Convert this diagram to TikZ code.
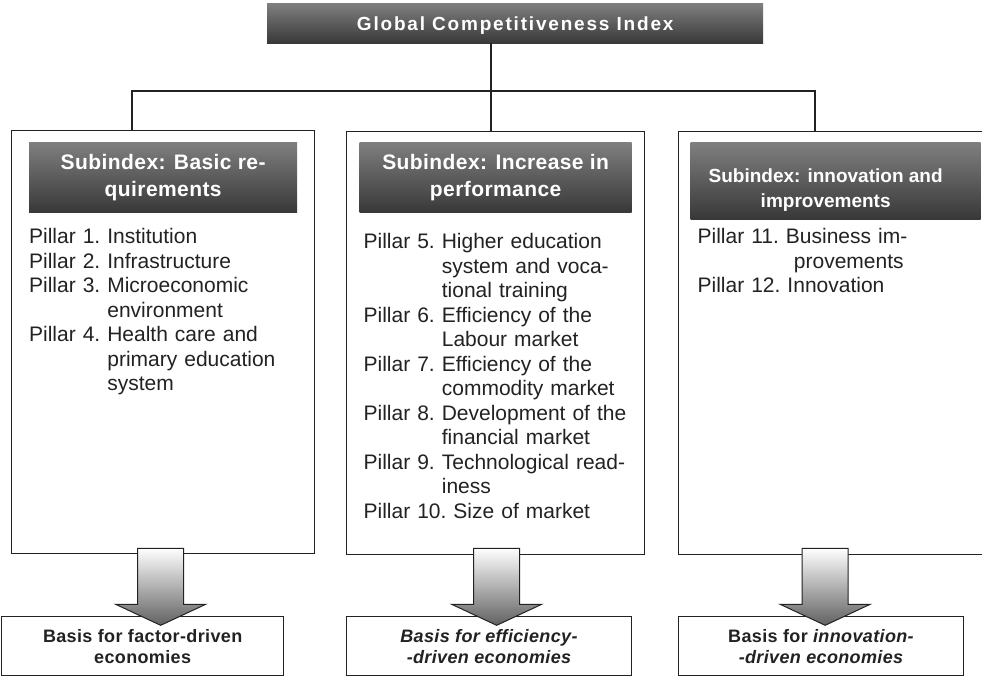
\documentclass[tikz,border=0pt]{standalone}
\usepackage{fontspec}
\setmainfont{Liberation Sans}
\newfontfamily\titlefont[LetterSpace=9.5]{Liberation Sans}
\newfontfamily\headfont[LetterSpace=2]{Liberation Sans}
\usetikzlibrary{positioning,calc}
\definecolor{ink}{HTML}{222222}

% one pillar line, continuation lines hang under the text
\newcommand\pillar[3][0pt]{\setbox0\hbox{Pillar #2.\ }%
  \hangindent\dimexpr\wd0+#1\relax\hangafter1\noindent\box0 #3\par}

\tikzset{
  box/.style={draw=ink, line width=1.3pt, fill=white, inner sep=0pt},
  headtext/.style={text=white, inner sep=0pt, align=center, font=\headfont\fontsize{21}{27}\selectfont\bfseries},
  head/.style={headtext, top color=black!50, bottom color=black!78},
  pillars/.style={inner sep=0pt, text=ink, align=left, font=\fontsize{21}{24.5}\selectfont},
  basis/.style={box, minimum width=285pt, minimum height=59pt, align=center, text=ink,
    font=\headfont\fontsize{18}{21}\selectfont\bfseries},
  tree/.style={draw=ink, line width=1.3pt},
  arrowfill/.style={draw=ink, line width=1pt, top color=white, bottom color=black!62},
  pics/bigarrow/.style={code={
    \path[arrowfill] (-23,0) -- (23,0) -- (23,56) -- (45,56) -- (0,77) -- (-45,56) -- (-23,56) -- cycle;}}
}

\begin{document}
\begin{tikzpicture}[x=1pt, y=-1pt]
\useasboundingbox (0,0) rectangle (982,678);
\node[head, font=\titlefont\fontsize{19}{22}\selectfont\bfseries, text depth=0pt, minimum width=496pt,
  minimum height=40pt, anchor=north west] (gci) at (267,3) {Global Competitiveness Index};

% the three subindex boxes
\node[box, minimum width=303pt, minimum height=423pt, anchor=north west] (lbox) at (11,130) {};
\node[box, minimum width=298pt, minimum height=423pt, anchor=north west] (mbox) at (346,131) {};
\node[box, minimum width=314pt, minimum height=423pt, anchor=north west] (rbox) at (678,131) {};

\node[head, minimum width=268pt, minimum height=70pt, below=12pt of lbox.north] (lhead) {Subindex: Basic re-\\quirements};
\node[head, minimum width=272pt, minimum height=70pt, below=11pt of mbox.north] (mhead) {Subindex: Increase in\\performance};
\node[head, minimum width=290pt, minimum height=77pt, below=11pt of rbox.north] (rhead) {};
\node[headtext, font=\fontsize{19}{25}\selectfont\bfseries] (rheadtext) at ($(rhead.center)+(-10,9)$)
  {Subindex: innovation and\\improvements};

\node[pillars, text width=268pt, below right=16pt and 0pt of lhead.south west] (ltext) {%
  \pillar{1}{Institution}
  \pillar{2}{Infrastructure}
  \pillar{3}{Microeconomic\newline environment}
  \pillar{4}{Health care and\newline primary education\newline system}};
\node[pillars, text width=270pt, below right=21pt and 4pt of mhead.south west] (mtext) {%
  \pillar{5}{Higher education\newline system and voca-\newline tional training}
  \pillar{6}{Efficiency of the\newline Labour market}
  \pillar{7}{Efficiency of the\newline commodity market}
  \pillar{8}{Development of the\newline financial market}
  \pillar{9}{Technological read-\newline iness}
  \pillar{10}{Size of market}};
\node[pillars, text width=283pt, below right=9pt and 7pt of rhead.south west] (rtext) {%
  \pillar[8pt]{11}{Business im-\newline provements}
  \pillar{12}{Innovation}};

% tree lines
\coordinate (lfork) at (132,91);
\coordinate (mfork) at (491,91);
\coordinate (rfork) at (815,91);
\draw[tree] (mfork |- gci.south) -- (mfork |- mbox.north);
\draw[tree] (lfork |- lbox.north) -- (lfork) -- (rfork) -- (rfork |- rbox.north);

% bases
\node[basis, minimum width=282pt, anchor=north west] (lbasis) at (1,616) {Basis for factor-driven\\economies};
\node[basis, anchor=north west] (mbasis) at (346,616) {\textit{Basis for efficiency-}\\\textit{-driven economies}};
\node[basis, anchor=north west] (rbasis) at (678,616) {Basis for \textit{innovation-}\\\textit{-driven economies}};

\pic at ($(lbox.south)+(-2.5,-6)$) {bigarrow};
\pic at ($(mbox.south)+(1,-7)$) {bigarrow};
\pic at ($(rbox.south)+(-10.5,-7)$) {bigarrow};
\end{tikzpicture}
\end{document}
